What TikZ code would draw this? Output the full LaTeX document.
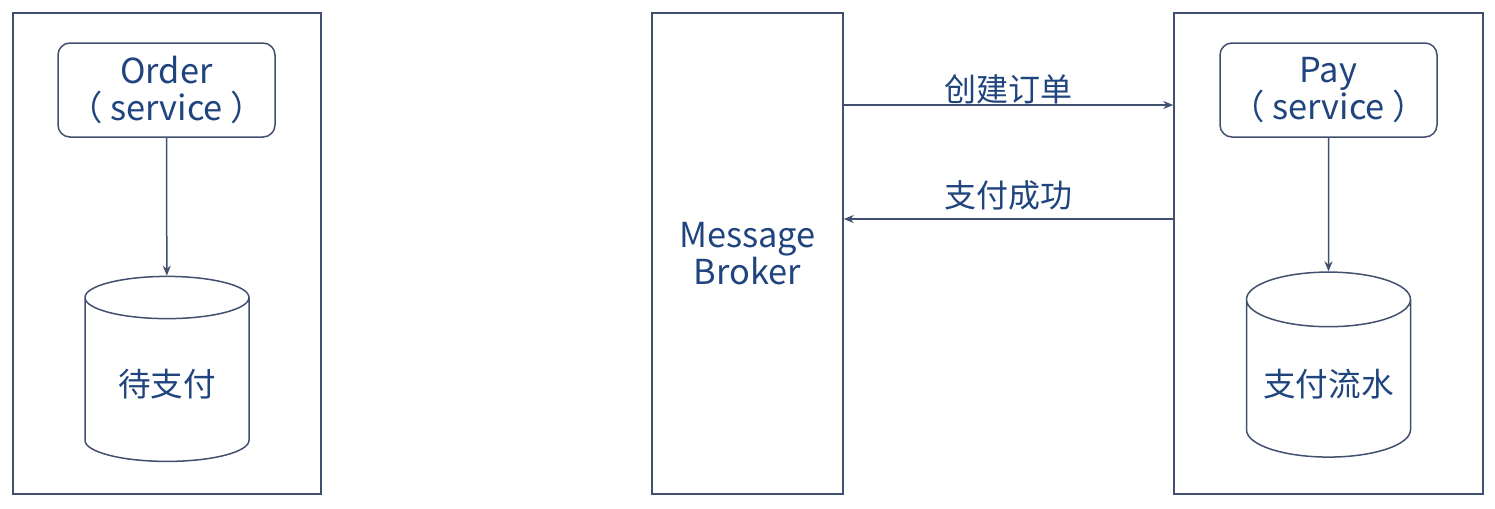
\documentclass[tikz,border=0pt]{standalone}
\usepackage{fontspec}
\setmainfont{Noto Sans CJK SC}
\usepackage{tikz}
\usetikzlibrary{shapes.geometric,arrows.meta,positioning}
\definecolor{linecol}{RGB}{65,80,110}
\definecolor{textcol}{RGB}{32,68,125}
\tikzset{
  >={Stealth[length=5pt,width=4pt]},
  zone/.style={draw=linecol,line width=0.75pt,minimum height=240.5pt},
  service/.style={draw=linecol,line width=0.75pt,rounded corners=6pt,
    minimum width=108.5pt,minimum height=47pt,align=center,text=textcol,
    font=\fontsize{17.2}{18.8}\selectfont},
  store/.style={draw=linecol,line width=0.75pt,cylinder,shape border rotate=90,
    aspect=0.38,minimum width=82pt,minimum height=92.5pt,text=textcol,
    font=\fontsize{16.3}{18.5}\selectfont},
  msg/.style={text=textcol,font=\fontsize{16}{18.5}\selectfont,inner sep=0pt}
}

\begin{document}
\begin{tikzpicture}[x=0.5pt,y=-0.5pt]
           \useasboundingbox (0,0) rectangle (1495,509);
           \node[zone,minimum width=154pt] (orderzone) at (167,253.5) {};
           \node[service] (order) at (166.5,90) {Order\\（ service ）};
           \node[store] (orderdb) at (167,384) {待支付};
           \node[zone,minimum width=95.5pt,align=center,text=textcol,
             font=\fontsize{17.2}{18.3}\selectfont] (broker) at (747.5,253.5) {Message\\Broker};
           \node[zone,minimum width=154.5pt] (payzone) at (1328.5,253.5) {};
           \node[service] (pay) at (1328.5,90) {Pay\\（ service ）};
           \node[store] (paydb) at (1328.5,384) {支付流水};
           \coordinate (b1) at ([yshift=74.25pt]broker.east);
           \coordinate (p1) at ([yshift=74.25pt]payzone.west);
           \coordinate (b2) at ([yshift=17.25pt]broker.east);
           \coordinate (p2) at ([yshift=17.25pt]payzone.west);
            \path[->,linecol,line width=0.75pt]
            (order) edge (orderdb)
            (pay) edge (paydb)
            (b1) edge node[msg,above=0pt] {创建订单} (p1)
            (p2) edge node[msg,above=4pt] {支付成功} (b2);
        \end{tikzpicture}
\end{document}
